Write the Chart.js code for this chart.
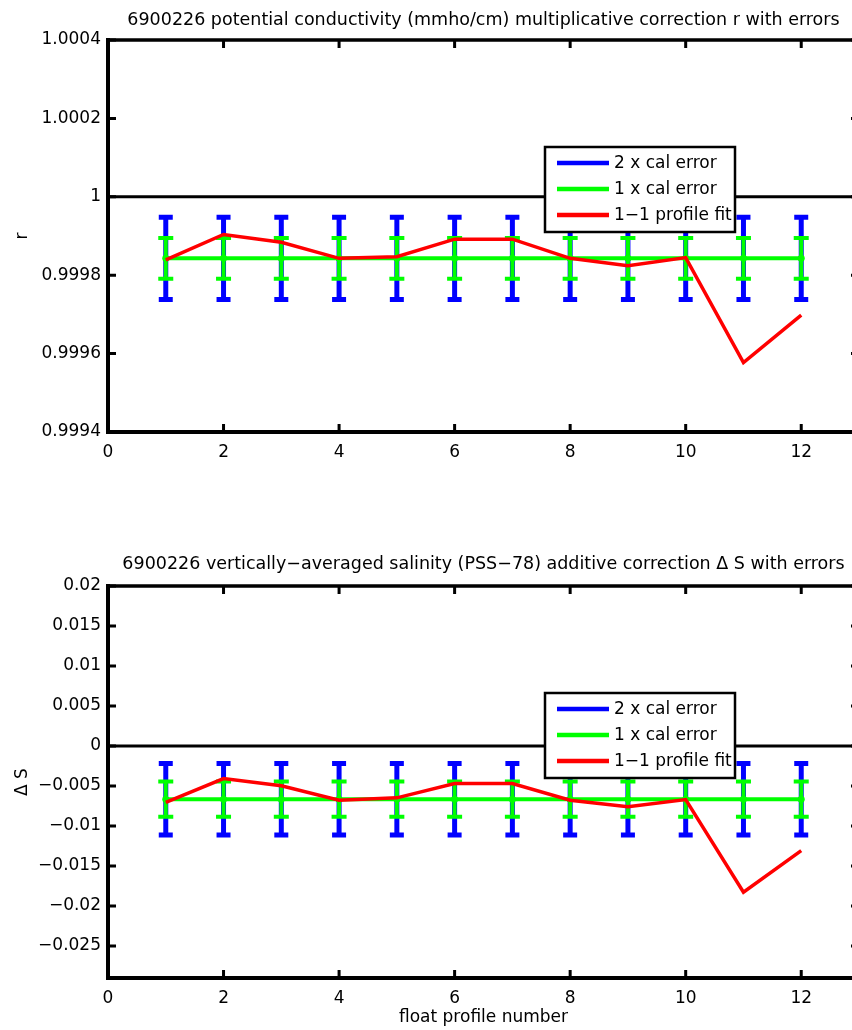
<!DOCTYPE html>
<html>
<head>
<meta charset="utf-8">
<script src="https://cdn.jsdelivr.net/npm/chart.js@4/dist/chart.umd.min.js"></script>
<style>
html, body { margin: 0; padding: 0; background: #fff; overflow: hidden; width: 852px; height: 1030px; }
.box { position: absolute; left: 0; }
#topBox { top: 0; }
#botBox { top: 546px; }
</style>
</head>
<body>
<div class="box" id="topBox"><canvas id="chartR" width="880" height="485"></canvas></div>
<div class="box" id="botBox"><canvas id="chartS" width="880" height="485"></canvas></div>
<script>
// float profile numbers
var profiles = [1, 2, 3, 4, 5, 6, 7, 8, 9, 10, 11, 12];

// conductivity multiplicative correction r
var rCal  = [0.999843, 0.999843, 0.999843, 0.999843, 0.999843, 0.999843, 0.999843, 0.999843, 0.999843, 0.999843, 0.999843, 0.999843];
var rErr1 = [0.000052, 0.000052, 0.000052, 0.000052, 0.000052, 0.000052, 0.000052, 0.000052, 0.000052, 0.000052, 0.000052, 0.000052];
var rErr2 = [0.000105, 0.000105, 0.000105, 0.000105, 0.000105, 0.000105, 0.000105, 0.000105, 0.000105, 0.000105, 0.000105, 0.000105];
var rFit  = [0.999839, 0.999904, 0.999884, 0.999843, 0.999847, 0.999892, 0.999892, 0.999843, 0.999824, 0.999845, 0.999577, 0.999698];

// salinity additive correction delta S
var sCal  = [-0.00665, -0.00665, -0.00665, -0.00665, -0.00665, -0.00665, -0.00665, -0.00665, -0.00665, -0.00665, -0.00665, -0.00665];
var sErr1 = [0.0022, 0.0022, 0.0022, 0.0022, 0.0022, 0.0022, 0.0022, 0.0022, 0.0022, 0.0022, 0.0022, 0.0022];
var sErr2 = [0.00447, 0.00447, 0.00447, 0.00447, 0.00447, 0.00447, 0.00447, 0.00447, 0.00447, 0.00447, 0.00447, 0.00447];
var sFit  = [-0.00706, -0.00407, -0.00498, -0.00677, -0.00648, -0.00469, -0.00469, -0.00677, -0.0076, -0.0067, -0.01827, -0.01308];

// ticks
var xTicks = [0, 2, 4, 6, 8, 10, 12];
var rTicks = [0.9994, 0.9996, 0.9998, 1, 1.0002, 1.0004];
var rTickLabels = ['0.9994', '0.9996', '0.9998', '1', '1.0002', '1.0004'];
var sTicks = [-0.025, -0.02, -0.015, -0.01, -0.005, 0, 0.005, 0.01, 0.015, 0.02];
var sTickLabels = ['\u22120.025', '\u22120.02', '\u22120.015', '\u22120.01', '\u22120.005', '0', '0.005', '0.01', '0.015', '0.02'];

var legendLabels = ['2 x cal error', '1 x cal error', '1\u22121 profile fit'];
var legendColors = ['#0000ff', '#00ff00', '#ff0000'];

var FONT = 'DejaVu Sans';

function pts(ys) {
  return profiles.map(function(x, i) { return { x: x, y: ys[i] }; });
}

// error bars, frame with inward ticks, legend and title
var matlabPlugin = {
  id: 'matlab',
  beforeDatasetsDraw: function(chart) {
    var o = chart.options.plugins.matlab;
    var ctx = chart.ctx, xs = chart.scales.x, ys = chart.scales.y;
    function bars(err, color, lw, capW, capLw) {
      ctx.save();
      ctx.strokeStyle = color;
      ctx.lineCap = 'butt';
      profiles.forEach(function(p, i) {
        var px = xs.getPixelForValue(p);
        var hi = ys.getPixelForValue(o.center[i] + err[i]);
        var lo = ys.getPixelForValue(o.center[i] - err[i]);
        ctx.lineWidth = lw;
        ctx.beginPath(); ctx.moveTo(px, hi); ctx.lineTo(px, lo); ctx.stroke();
        ctx.lineWidth = capLw;
        ctx.beginPath();
        ctx.moveTo(px - capW / 2, hi); ctx.lineTo(px + capW / 2, hi);
        ctx.moveTo(px - capW / 2, lo); ctx.lineTo(px + capW / 2, lo);
        ctx.stroke();
      });
      ctx.restore();
    }
    bars(o.err2, '#0000ff', 5, 14, 5);
    bars(o.err1, '#00ff00', 4, 15, 4);
  },
  afterDatasetsDraw: function(chart) {
    var o = chart.options.plugins.matlab;
    var ctx = chart.ctx, a = chart.chartArea, xs = chart.scales.x, ys = chart.scales.y;
    ctx.save();
    ctx.strokeStyle = '#000';
    ctx.lineWidth = 4;
    ctx.beginPath();
    ctx.moveTo(a.left, a.top - 2); ctx.lineTo(a.left, a.bottom + 2);
    ctx.moveTo(a.left - 2, a.bottom); ctx.lineTo(a.right, a.bottom);
    ctx.stroke();
    ctx.lineWidth = 3.5;
    ctx.beginPath();
    ctx.moveTo(a.left - 2, a.top); ctx.lineTo(a.right, a.top);
    ctx.moveTo(a.right, a.top); ctx.lineTo(a.right, a.bottom);
    ctx.stroke();
    ctx.lineWidth = 3;
    ctx.beginPath();
    xTicks.forEach(function(v) {
      var px = xs.getPixelForValue(v);
      ctx.moveTo(px, a.bottom); ctx.lineTo(px, a.bottom - 8);
      ctx.moveTo(px, a.top); ctx.lineTo(px, a.top + 8);
    });
    o.yTicks.forEach(function(v) {
      var py = ys.getPixelForValue(v);
      ctx.moveTo(a.left, py); ctx.lineTo(a.left + 8, py);
      ctx.moveTo(a.right, py); ctx.lineTo(a.right - 8, py);
    });
    ctx.stroke();

    // legend
    var L = o.legend;
    ctx.fillStyle = '#fff';
    ctx.fillRect(L.left, L.top, L.width, L.height);
    ctx.lineWidth = 2.5;
    ctx.strokeRect(L.left, L.top, L.width, L.height);
    ctx.font = '17px "' + FONT + '"';
    ctx.textBaseline = 'middle';
    ctx.textAlign = 'left';
    legendLabels.forEach(function(lbl, i) {
      var y = L.top + 16 + i * 26;
      ctx.strokeStyle = legendColors[i];
      ctx.lineWidth = 4.5;
      ctx.beginPath(); ctx.moveTo(L.left + 12, y); ctx.lineTo(L.left + 64, y); ctx.stroke();
      ctx.fillStyle = '#000';
      ctx.fillText(lbl, L.left + 69, y + 1);
    });

    // title centred over the axes
    ctx.font = '17.5px "' + FONT + '"';
    ctx.textAlign = 'center';
    ctx.fillText(o.title, (a.left + a.right) / 2, o.titleY);
    ctx.restore();
  }
};

function makeChart(id, cfg) {
  return new Chart(document.getElementById(id), {
    type: 'line',
    data: {
      datasets: [
        {
          label: legendLabels[2],
          data: pts(cfg.fit),
          borderColor: '#ff0000',
          borderWidth: 3.5,
          pointRadius: 0,
          order: 0
        },
        {
          label: legendLabels[1],
          data: pts(cfg.center),
          borderColor: '#00ff00',
          backgroundColor: '#00ff00',
          borderWidth: 4,
          pointRadius: 3.5,
          pointBorderWidth: 0,
          order: 1
        },
        {
          label: 'reference',
          data: [{ x: 0, y: cfg.ref }, { x: 13, y: cfg.ref }],
          borderColor: '#000',
          borderWidth: 3,
          pointRadius: 0,
          order: 2
        }
      ]
    },
    options: {
      responsive: false,
      animation: false,
      layout: { padding: { top: 40, right: 21, left: 0, bottom: 0 } },
      plugins: {
        legend: { display: false },
        tooltip: { enabled: false },
        matlab: {
          center: cfg.center, err1: cfg.err1, err2: cfg.err2,
          yTicks: cfg.yTicks, title: cfg.title, titleY: cfg.titleY,
          legend: { left: 545, top: 147, width: 190, height: 85 }
        }
      },
      scales: {
        x: {
          type: 'linear',
          min: 0,
          max: 13,
          afterBuildTicks: function(s) { s.ticks = xTicks.map(function(v) { return { value: v }; }); },
          afterFit: function(s) { s.height = 53; },
          grid: { display: false, drawTicks: false },
          border: { display: false },
          ticks: { color: '#000', font: { family: FONT, size: 17 }, padding: 10, maxRotation: 0, autoSkip: false },
          title: {
            display: !!cfg.xTitle,
            text: cfg.xTitle || '',
            color: '#000',
            font: { family: FONT, size: 17 },
            padding: { top: 0, bottom: 3 }
          }
        },
        y: {
          type: 'linear',
          min: cfg.yMin,
          max: cfg.yMax,
          afterBuildTicks: function(s) { s.ticks = cfg.yTicks.map(function(v) { return { value: v }; }); },
          afterFit: function(s) { s.width = 108; },
          grid: { display: false, drawTicks: false },
          border: { display: false },
          ticks: {
            color: '#000',
            font: { family: FONT, size: 17 },
            padding: 7,
            callback: function(v, i) { return cfg.yLabels[i]; }
          },
          title: {
            display: true,
            text: cfg.yTitle,
            color: '#000',
            font: { family: FONT, size: 17 },
            padding: { top: 12, bottom: 0 }
          }
        }
      }
    },
    plugins: [matlabPlugin]
  });
}

makeChart('chartR', {
  fit: rFit, center: rCal, err1: rErr1, err2: rErr2, ref: 1,
  yMin: 0.9994, yMax: 1.0004, yTicks: rTicks, yLabels: rTickLabels,
  yTitle: 'r', titleY: 20,
  title: '6900226 potential conductivity (mmho/cm) multiplicative correction r with errors'
});

makeChart('chartS', {
  fit: sFit, center: sCal, err1: sErr1, err2: sErr2, ref: 0,
  yMin: -0.029, yMax: 0.02, yTicks: sTicks, yLabels: sTickLabels,
  yTitle: '\u0394 S', titleY: 18, xTitle: 'float profile number',
  title: '6900226 vertically\u2212averaged salinity (PSS\u221278) additive correction \u0394 S with errors'
});
</script>
</body>
</html>
